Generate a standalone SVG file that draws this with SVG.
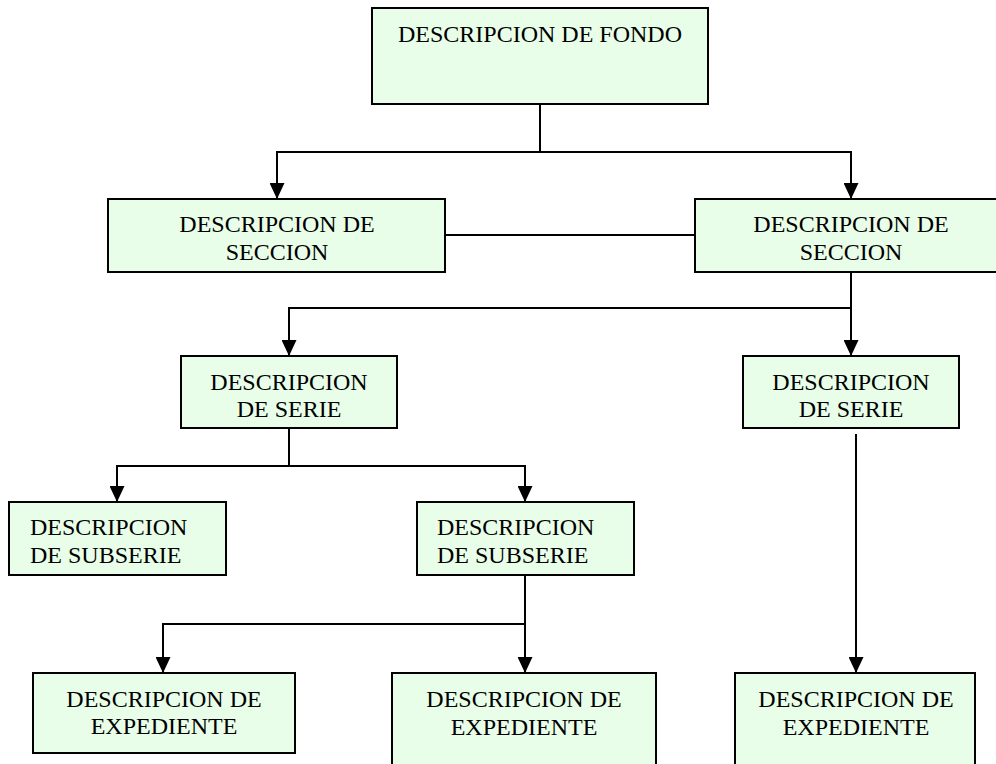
<svg xmlns="http://www.w3.org/2000/svg" width="996" height="764" viewBox="0 0 996 764">
<style>
.box{fill:#E9FEE9;stroke:#000;stroke-width:2}
.t{font-family:"Liberation Serif","Times New Roman",serif;font-size:24px;fill:#000}
.c{text-anchor:middle}
.ln{fill:none;stroke:#000;stroke-width:2}
</style>
<defs>
<marker id="ah" viewBox="0 0 16 15" refX="16" refY="7.5" markerWidth="16" markerHeight="15" markerUnits="userSpaceOnUse" orient="auto">
<path d="M0,0 L16,7.5 L0,15 Z" fill="#000"/>
</marker>
</defs>
<rect width="996" height="764" fill="#fff"/>
<g id="connectors">
<path class="ln" d="M540,104 V152"/>
<path class="ln" d="M540,152 H277 V199" marker-end="url(#ah)"/>
<path class="ln" d="M540,152 H851 V199" marker-end="url(#ah)"/>
<path class="ln" d="M445,235 H695"/>
<path class="ln" d="M851,272 V356" marker-end="url(#ah)"/>
<path class="ln" d="M851,308 H289 V356" marker-end="url(#ah)"/>
<path class="ln" d="M289,428 V466"/>
<path class="ln" d="M289,466 H117 V502" marker-end="url(#ah)"/>
<path class="ln" d="M289,466 H525 V502" marker-end="url(#ah)"/>
<path class="ln" d="M525,575 V673" marker-end="url(#ah)"/>
<path class="ln" d="M525,624 H163 V673" marker-end="url(#ah)"/>
<path class="ln" d="M856,434 V673" marker-end="url(#ah)"/>
</g>
<g id="fondo">
<rect class="box" x="372" y="8" width="336" height="96"/>
<text class="t c" x="540" y="42">DESCRIPCION DE FONDO</text>
</g>
<g id="seccion1">
<rect class="box" x="108" y="199" width="337" height="73"/>
<text class="t c" x="277" y="232">DESCRIPCION DE</text>
<text class="t c" x="277" y="260">SECCION</text>
</g>
<g id="seccion2">
<rect class="box" x="695" y="199" width="312" height="73"/>
<text class="t c" x="851" y="232">DESCRIPCION DE</text>
<text class="t c" x="851" y="260">SECCION</text>
</g>
<g id="serie1">
<rect class="box" x="181" y="356" width="216" height="72"/>
<text class="t c" x="289" y="390">DESCRIPCION</text>
<text class="t c" x="289" y="417">DE SERIE</text>
</g>
<g id="serie2">
<rect class="box" x="743" y="356" width="216" height="72"/>
<text class="t c" x="851" y="390">DESCRIPCION</text>
<text class="t c" x="851" y="417">DE SERIE</text>
</g>
<g id="subserie1">
<rect class="box" x="9" y="502" width="217" height="73"/>
<text class="t" x="30" y="535">DESCRIPCION</text>
<text class="t" x="30" y="563">DE SUBSERIE</text>
</g>
<g id="subserie2">
<rect class="box" x="417" y="502" width="217" height="73"/>
<text class="t" x="437" y="535">DESCRIPCION</text>
<text class="t" x="437" y="563">DE SUBSERIE</text>
</g>
<g id="expediente1">
<rect class="box" x="33" y="673" width="262" height="80"/>
<text class="t c" x="164" y="707">DESCRIPCION DE</text>
<text class="t c" x="164" y="734">EXPEDIENTE</text>
</g>
<g id="expediente2">
<rect class="box" x="392" y="673" width="264" height="100"/>
<text class="t c" x="524" y="707">DESCRIPCION DE</text>
<text class="t c" x="524" y="735">EXPEDIENTE</text>
</g>
<g id="expediente3">
<rect class="box" x="735" y="673" width="240" height="100"/>
<text class="t c" x="856" y="707">DESCRIPCION DE</text>
<text class="t c" x="856" y="735">EXPEDIENTE</text>
</g>
</svg>
